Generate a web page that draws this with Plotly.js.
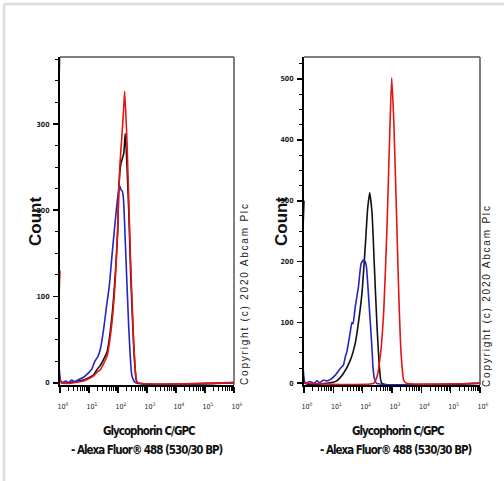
<!DOCTYPE html>
<html>
<head>
<meta charset="utf-8">
<script src="https://cdn.plot.ly/plotly-3.0.1.min.js"></script>
<style>
html,body{margin:0;padding:0;background:#fff;}
#chart{width:504px;height:481px;}
</style>
</head>
<body>
<div id="chart"></div>
<script>
// ---- Data (fluorescence intensity, cell count) ----
// Left panel
const leftBlackX = [1, 1.12, 3, 6.5, 14.5, 18.6, 24.5, 42, 62, 81, 98, 105, 126, 158, 178, 234, 275, 347, 400, 457, 1000000];
const leftBlackY = [400, 0, 1, 3, 9, 15, 20, 36, 77, 127, 175, 222, 254, 266, 289, 201, 124, 43, 12, 0, 0];
const leftBlueX = [1, 1.12, 1.58, 2, 2.5, 3.2, 4, 6.3, 10, 12.6, 16, 20, 25, 32, 40, 50, 63, 79, 100, 115, 126, 141, 155, 178, 234, 302, 398, 1000000];
const leftBlueY = [1000, 0, 2, 0, 3, 1, 3, 6, 12, 16, 25, 30, 40, 62, 88, 112, 150, 185, 218, 228, 224, 222, 212, 165, 65, 8, 0, 0];
const leftRedX = [1, 1.12, 6.5, 14.5, 18.6, 24.5, 42, 62, 81, 98, 115, 138, 158, 170, 204, 269, 347, 420, 479, 1000000];
const leftRedY = [130, 0, 2, 8, 12, 15, 31, 70, 120, 182, 250, 289, 320, 338, 280, 145, 47, 5, 0, 0];
// Right panel
const rightBlackX = [1, 1.12, 6, 13, 22, 38, 56, 72, 95, 123, 148, 174, 209, 251, 309, 380, 457, 1000000];
const rightBlackY = [300, 0, 0, 4, 16, 38, 66, 100, 149, 226, 287, 313, 279, 191, 93, 22, 0, 0];
const rightBlueX = [1, 1.12, 1.6, 2.2, 2.8, 3.5, 4.5, 6, 7.8, 11.5, 17, 22, 26, 29, 38, 43, 47, 56, 72, 89, 107, 123, 135, 148, 174, 209, 224, 251, 295, 1000000];
const rightBlueY = [1000, 0, 3, 0, 4, 1, 5, 4, 6, 13, 24, 30, 45, 52, 85, 100, 98, 126, 159, 197, 203, 200, 191, 165, 114, 55, 27, 8, 0, 0];
const rightRedX = [1, 240, 309, 407, 525, 676, 851, 977, 1148, 1413, 1698, 2042, 2512, 3162, 1000000];
const rightRedY = [0, 0, 11, 49, 120, 257, 421, 502, 432, 285, 148, 49, 5, 0, 0];

// ---- Tick labels ----
const xTickVals = [1, 10, 100, 1000, 10000, 100000, 1000000];
const xTickText = ['10<sup>0</sup>', '10<sup>1</sup>', '10<sup>2</sup>', '10<sup>3</sup>', '10<sup>4</sup>', '10<sup>5</sup>', '10<sup>6</sup>'];
const leftYTicks = [0, 100, 200, 300];
const rightYTicks = [0, 100, 200, 300, 400, 500];
const xTitle1 = 'Glycophorin C/GPC';
const xTitle2 = '- Alexa Fluor® 488 (530/30 BP)';
const yTitle = 'Count';
const copyright = 'Copyright (c) 2020 Abcam Plc';

const W = 504, H = 481;
const px = v => v / W;
const py = v => 1 - v / H;

const BLUE = '#2424c8', RED = '#e41414', BLACK = '#111111';
const narrow = '"DejaVu Sans Condensed", "Liberation Sans Narrow", "Arial Narrow", "Liberation Sans", Arial, sans-serif';
const regular = '"Liberation Sans", Arial, sans-serif';

function tr(x, y, color, xa, ya) {
  return {x: x, y: y, type: 'scatter', mode: 'lines', xaxis: xa, yaxis: ya,
          line: {color: color, width: 1.6, shape: 'spline', smoothing: 0.5}, hoverinfo: 'skip'};
}
const data = [
  tr(leftBlackX, leftBlackY, BLACK, 'x', 'y'),
  tr(leftBlueX, leftBlueY, BLUE, 'x', 'y'),
  tr(leftRedX, leftRedY, RED, 'x', 'y'),
  tr(rightBlackX, rightBlackY, BLACK, 'x2', 'y2'),
  tr(rightBlueX, rightBlueY, BLUE, 'x2', 'y2'),
  tr(rightRedX, rightRedY, RED, 'x2', 'y2')
];

function xAxis(d0, d1, anchor) {
  return {domain: [px(d0), px(d1)], anchor: anchor, type: 'log', range: [0, 6],
    tickmode: 'array', tickvals: xTickVals, ticktext: xTickText,
    ticks: 'outside', ticklen: 6, tickwidth: 1.6, tickcolor: '#000',
    showline: true, linecolor: '#000', linewidth: 2, showgrid: false, zeroline: false,
    tickfont: {family: narrow, size: 7, color: '#222'},
    ticklabelstandoff: 8, ticklabelshift: 3,
    minor: {dtick: 'D1', ticks: 'outside', ticklen: 3.5, tickwidth: 1, tickcolor: '#000', showgrid: false},
    fixedrange: true};
}
function yAxis(range, ticks, anchor) {
  return {domain: [py(385), py(57)], anchor: anchor, range: range,
    tickmode: 'array', tickvals: ticks, ticks: 'outside', ticklen: 5, tickwidth: 1.8, tickcolor: '#000',
    showline: true, linecolor: '#000', linewidth: 2, showgrid: false, zeroline: false,
    tickfont: {family: narrow, size: 7, color: '#222', weight: 'bold'},
    ticklabelstandoff: 2,
    minor: {tickmode: 'linear', tick0: 0, dtick: 25, ticks: 'outside', ticklen: 3, tickwidth: 1, tickcolor: '#000', showgrid: false},
    fixedrange: true};
}

function frame(xr, yr) {
  return [
    {type: 'line', xref: xr + ' domain', yref: yr + ' domain', x0: 0, x1: 1, y0: 1, y1: 1, line: {color: '#555', width: 1.5}},
    {type: 'line', xref: xr + ' domain', yref: yr + ' domain', x0: 1, x1: 1, y0: 0, y1: 1, line: {color: '#555', width: 1.5}}
  ];
}

const shapes = [].concat(frame('x', 'y'), frame('x2', 'y2'), [
  {type: 'line', xref: 'paper', yref: 'paper', x0: px(4), x1: 1, y0: py(4), y1: py(4), line: {color: '#dcdcdc', width: 2.5}},
  {type: 'line', xref: 'paper', yref: 'paper', x0: px(4), x1: px(4), y0: py(4), y1: 0, line: {color: '#dcdcdc', width: 2.5}}
]);

const tSpan = t => '<span style="letter-spacing:-1px">' + t + '</span>';
function ann(text, x, y, size, opts) {
  return Object.assign({text: text, xref: 'paper', yref: 'paper', x: px(x), y: py(y),
    xanchor: 'center', yanchor: 'middle', showarrow: false,
    font: {family: narrow, size: size, color: '#111', weight: 'bold'}}, opts || {});
}
const annotations = [
  ann(tSpan(xTitle1), 149, 431, 11.5),
  ann(tSpan(xTitle2), 147, 450, 11.5),
  ann(tSpan(xTitle1), 398, 431, 11.5),
  ann(tSpan(xTitle2), 396, 450, 11.5),
  ann(yTitle, 35, 222, 17, {textangle: -90, font: {family: regular, size: 17, color: '#111', weight: 'bold'}}),
  ann(yTitle, 281, 222, 17, {textangle: -90, font: {family: regular, size: 17, color: '#111', weight: 'bold'}}),
  ann('<span style="letter-spacing:1.8px">' + copyright + '</span>', 244, 294, 10, {textangle: -90, font: {family: regular, size: 10, color: '#222'}}),
  ann('<span style="letter-spacing:1.8px">' + copyright + '</span>', 486, 296, 10, {textangle: -90, font: {family: regular, size: 10, color: '#222'}})
];

const layout = {
  width: W, height: H, margin: {l: 0, r: 0, t: 0, b: 0},
  paper_bgcolor: '#fff', plot_bgcolor: '#fff', showlegend: false,
  xaxis: xAxis(60, 234, 'y'),
  yaxis: yAxis([-2.7, 377.8], leftYTicks, 'x'),
  xaxis2: xAxis(304, 480, 'y2'),
  yaxis2: yAxis([-2.8, 536], rightYTicks, 'x2'),
  shapes: shapes,
  annotations: annotations
};

Plotly.newPlot('chart', data, layout, {staticPlot: true, displayModeBar: false});
</script>
</body>
</html>
